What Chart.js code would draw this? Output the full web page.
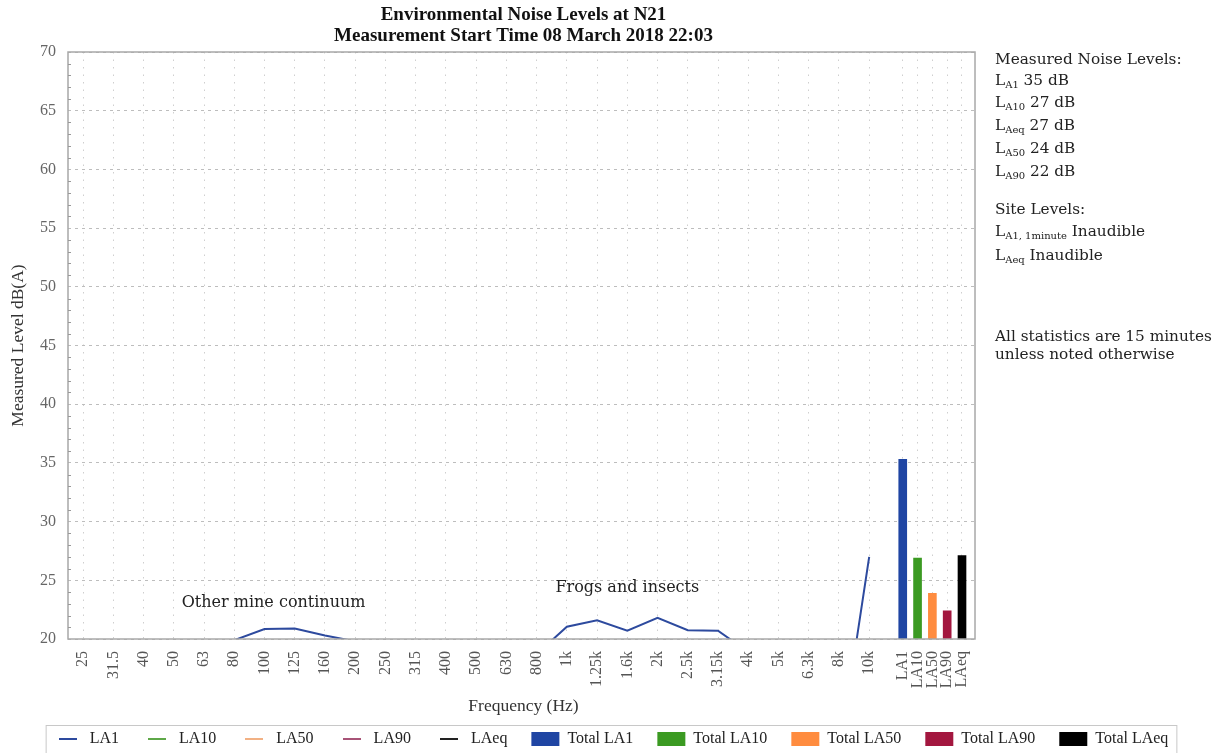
<!DOCTYPE html>
<html>
<head>
    <title>Environmental Noise Levels at N21</title>
    <script src="https://cdn.jsdelivr.net/npm/chart.js@4.4.1/dist/chart.umd.min.js"></script>
    <style>
        html, body { margin: 0; padding: 0; background: #fff; }
        #holder { width: 1222px; height: 753px; }
    </style>
</head>
<body>
    <div id="holder"><canvas id="chart-area"></canvas></div>

    <script>
        // one-third octave bands, then the overall statistics
        const freqLabels = ['25', '31.5', '40', '50', '63', '80', '100', '125', '160', '200', '250', '315', '400',
            '500', '630', '800', '1k', '1.25k', '1.6k', '2k', '2.5k', '3.15k', '4k', '5k', '6.3k', '8k', '10k'];
        const totalLabels = ['LA1', 'LA10', 'LA50', 'LA90', 'LAeq'];

        // LA1 spectrum, dB(A); null = well under the 20 dB floor of the plot
        const la1Spectrum = [null, null, null, null, null, 19.9, 20.85, 20.9, 20.3, 19.8, null, null, null,
            null, null, 18.7, 21.05, 21.6, 20.7, 21.8, 20.75, 20.7, 18.9, null, null, 10, 27.0];
        // the other spectra sit entirely below 20 dB and are not visible
        const la10Spectrum = [];
        const la50Spectrum = [];
        const la90Spectrum = [];
        const laeqSpectrum = [];

        // overall levels (bars)
        const totalValues = [35.3, 26.9, 23.9, 22.4, 27.1];

        const yTicks = [20, 25, 30, 35, 40, 45, 50, 55, 60, 65, 70];

        const serif = '"Liberation Serif", serif';
        const bookSerif = '"DejaVu Serif", serif';

        // x positions on the linear axis: bands at 0..26, totals packed after 10k
        const bandPos = freqLabels.map((l, i) => i);
        const totalPos = totalLabels.map((l, i) => freqLabels.length + 0.11 + i * 0.49);
        const allPos = bandPos.concat(totalPos);
        const allLabels = freqLabels.concat(totalLabels);

        function spectrum(values) {
            return values.map((v, i) => ({ x: i, y: v }));
        }

        function lineSwatch(color) {
            const c = document.createElement('canvas');
            c.width = 18;
            c.height = 2;
            const g = c.getContext('2d');
            g.fillStyle = color;
            g.fillRect(0, 0, 18, 2);
            return c;
        }

        function lineSet(label, values, color) {
            return {
                type: 'line', label: label, data: spectrum(values),
                borderColor: color, backgroundColor: color,
                borderWidth: 2, pointRadius: 0, tension: 0, spanGaps: false
            };
        }

        const barColors = ['#1f45a3', '#3b9a22', '#ff8c3f', '#a3173f', '#000000'];

        function barSet(i) {
            return {
                type: 'bar', label: 'Total ' + totalLabels[i],
                data: [{ x: totalPos[i], y: totalValues[i] }],
                backgroundColor: barColors[i], borderWidth: 0,
                barThickness: 8, grouped: false
            };
        }

        const datasets = [
            lineSet('LA1', la1Spectrum, '#2d4a9e'),
            lineSet('LA10', la10Spectrum, '#5ea848'),
            lineSet('LA50', la50Spectrum, '#f2b184'),
            lineSet('LA90', la90Spectrum, '#a85377'),
            lineSet('LAeq', laeqSpectrum, '#222222')
        ];
        totalLabels.forEach((l, i) => datasets.push(barSet(i)));

        // text on the chart: titles, notes, panel, frame and minor ticks
        const decorations = {
            id: 'decorations',
            afterDraw(chart) {
                const ctx = chart.ctx;
                const area = chart.chartArea;
                const xs = chart.scales.x, ys = chart.scales.y;
                ctx.save();

                // frame
                ctx.strokeStyle = '#a8a8a8';
                ctx.lineWidth = 1.5;
                ctx.strokeRect(area.left, area.top, area.right - area.left, area.bottom - area.top);

                // minor ticks every 1 dB
                ctx.lineWidth = 1;
                ctx.strokeStyle = '#999';
                for (let v = 21; v < 70; v++) {
                    if (v % 5 === 0) continue;
                    const py = Math.round(ys.getPixelForValue(v)) + 0.5;
                    ctx.beginPath();
                    ctx.moveTo(area.left, py);
                    ctx.lineTo(area.left + 3, py);
                    ctx.stroke();
                }

                // title
                const cx = (area.left + area.right) / 2 + 2;
                ctx.fillStyle = '#111';
                ctx.textAlign = 'center';
                ctx.textBaseline = 'middle';
                ctx.font = 'bold 19px ' + serif;
                ctx.fillText('Environmental Noise Levels at N21', cx, 15);
                ctx.fillText('Measurement Start Time 08 March 2018 22:03', cx, 36);

                // x axis title
                ctx.fillStyle = '#333';
                ctx.font = '17.5px ' + serif;
                ctx.fillText('Frequency (Hz)', cx, 706);

                // notes on the plot
                ctx.font = '16px ' + bookSerif;
                ctx.fillStyle = '#222';
                ctx.fillText('Other mine continuum', xs.getPixelForValue(6.3), ys.getPixelForValue(23.05));
                ctx.fillText('Frogs and insects', xs.getPixelForValue(18.0), ys.getPixelForValue(24.35));

                // side panel
                ctx.textAlign = 'left';
                const px = 995;
                const big = '15.3px ' + bookSerif;
                function plain(text, y) {
                    ctx.font = big;
                    ctx.fillText(text, px, y);
                }
                function sub(s, rest, y) {
                    ctx.font = big;
                    ctx.fillText('L', px, y);
                    let w = ctx.measureText('L').width;
                    ctx.font = '10px ' + bookSerif;
                    ctx.fillText(s, px + w, y + 4);
                    w += ctx.measureText(s).width;
                    ctx.font = big;
                    ctx.fillText(' ' + rest, px + w, y);
                }
                plain('Measured Noise Levels:', 60);
                sub('A1', '35 dB', 81);
                sub('A10', '27 dB', 103);
                sub('Aeq', '27 dB', 126);
                sub('A50', '24 dB', 149);
                sub('A90', '22 dB', 172);
                plain('Site Levels:', 210);
                sub('A1, 1minute', 'Inaudible', 232);
                sub('Aeq', 'Inaudible', 256);
                plain('All statistics are 15 minutes', 337);
                plain('unless noted otherwise', 355);

                // legend frame
                const boxes = chart.legend.legendHitBoxes;
                if (boxes && boxes.length) {
                    const l = Math.min(...boxes.map(b => b.left)) - 8;
                    const r = Math.max(...boxes.map(b => b.left + b.width)) + 8;
                    const t = Math.min(...boxes.map(b => b.top)) - 6;
                    const b = Math.max(...boxes.map(b => b.top + b.height)) + 6;
                    ctx.strokeStyle = '#c8c8c8';
                    ctx.lineWidth = 1;
                    ctx.strokeRect(l + 0.5, t + 0.5, r - l, b - t);
                }
                ctx.restore();
            }
        };

        window.onload = function () {
            const ctx = document.getElementById('chart-area').getContext('2d');
            window.myChart = new Chart(ctx, {
                type: 'bar',
                data: { datasets: datasets },
                options: {
                    responsive: true,
                    maintainAspectRatio: false,
                    animation: false,
                    layout: { padding: { top: 52, left: 0, right: 0, bottom: -4 } },
                    plugins: {
                        title: { display: false },
                        tooltip: { enabled: false },
                        legend: {
                            position: 'bottom',
                            labels: {
                                usePointStyle: true,
                                pointStyleWidth: 28,
                                boxHeight: 14,
                                padding: 24,
                                color: '#222',
                                font: { family: serif, size: 16 },
                                generateLabels(chart) {
                                    return chart.data.datasets.map((ds, i) => ({
                                        text: ds.label,
                                        datasetIndex: i,
                                        hidden: !chart.isDatasetVisible(i),
                                        fillStyle: ds.type === 'line' ? ds.borderColor : ds.backgroundColor,
                                        strokeStyle: ds.type === 'line' ? ds.borderColor : ds.backgroundColor,
                                        lineWidth: 0,
                                        pointStyle: ds.type === 'line' ? lineSwatch(ds.borderColor) : 'rect',
                                        fontColor: '#222'
                                    }));
                                }
                            }
                        }
                    },
                    scales: {
                        x: {
                            type: 'linear',
                            offset: false,
                            min: -0.5,
                            max: 29.5,
                            afterBuildTicks(scale) {
                                scale.ticks = allPos.map(v => ({ value: v }));
                            },
                            afterFit(scale) { scale.height = 68; },
                            ticks: {
                                autoSkip: false,
                                minRotation: 90,
                                maxRotation: 90,
                                padding: 12,
                                color: '#555',
                                font: { family: serif, size: 16 },
                                callback: (v, i) => allLabels[i]
                            },
                            grid: { color: '#cfcfcf', lineWidth: 1, drawTicks: false, offset: false },
                            border: { display: false, dash: [1.5, 6] }
                        },
                        y: {
                            min: 20,
                            max: 70,
                            afterBuildTicks(scale) {
                                scale.ticks = yTicks.map(v => ({ value: v }));
                            },
                            afterFit(scale) { scale.width = 68; },
                            ticks: {
                                padding: 12,
                                color: '#666',
                                font: { family: serif, size: 16 }
                            },
                            grid: { color: '#bdbdbd', lineWidth: 1, drawTicks: false },
                            border: { display: false, dash: [3, 4] },
                            title: {
                                display: true,
                                text: 'Measured Level dB(A)',
                                color: '#333',
                                font: { family: serif, size: 17.5 },
                                padding: { top: 8, bottom: 0 }
                            }
                        },
                        yPanel: {
                            type: 'linear',
                            position: 'right',
                            afterFit(scale) { scale.width = 247; },
                            ticks: { display: false },
                            grid: { display: false, drawTicks: false },
                            border: { display: false }
                        }
                    }
                },
                plugins: [decorations]
            });
        };
    </script>
</body>
</html>
